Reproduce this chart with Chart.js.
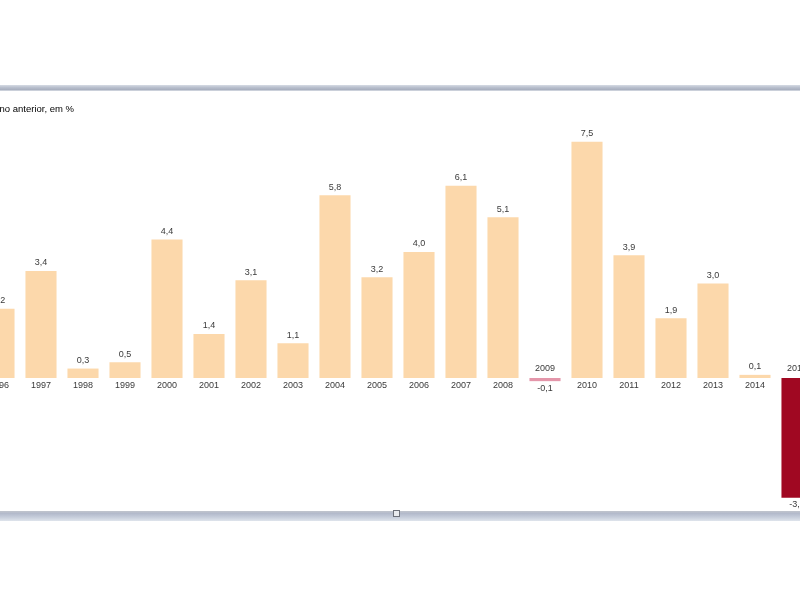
<!DOCTYPE html>
<html>
<head>
<meta charset="utf-8">
<script src="https://cdn.jsdelivr.net/npm/chart.js@4"></script>
<style>
  html, body { margin: 0; padding: 0; background: #fff; width: 800px; height: 600px; overflow: hidden; position: relative; }
  #c { position: absolute; left: -40px; top: 0; }
  .frameTop { position: absolute; left: 0; top: 85px; width: 800px; height: 6px;
    background: linear-gradient(#d6dbe4, #b9c0ce 40%, #a7aebe 80%, #e4e8ee); z-index: 2; }
  .frameBot { position: absolute; left: 0; top: 511px; width: 800px; height: 10px;
    background: linear-gradient(#c0c4cc, #b3bacb 25%, #c5ccda 60%, #dfe4ec); z-index: 2; }
  .handle { position: absolute; left: 393px; top: 510px; width: 5px; height: 5px; border: 1px solid #6d717a; background: #e9ebef; z-index: 3; }
</style>
</head>
<body>
<canvas id="c" width="880" height="600"></canvas>
<div class="frameTop"></div>
<div class="frameBot"></div>
<div class="handle"></div>
<script>
const years = ['1996','1997','1998','1999','2000','2001','2002','2003','2004','2005','2006','2007','2008','2009','2010','2011','2012','2013','2014','2015'];
const growth = [2.2, 3.4, 0.3, 0.5, 4.4, 1.4, 3.1, 1.1, 5.8, 3.2, 4.0, 6.1, 5.1, -0.1, 7.5, 3.9, 1.9, 3.0, 0.1, -3.8];
const titleText = 'PIB - Variação em relação ao ano anterior, em %';

const PEACH = 'rgb(252,216,171)';
const PINK = 'rgb(228,150,170)';
const DARKRED = 'rgb(160,8,34)';
const barColors = years.map((y, i) => y === '2015' ? DARKRED : (growth[i] < 0 ? PINK : PEACH));

const labelPlugin = {
  id: 'labels',
  afterDatasetsDraw(chart) {
    const ctx = chart.ctx;
    const meta = chart.getDatasetMeta(0);
    const yScale = chart.scales.y;
    const base = yScale.getPixelForValue(0);
    ctx.save();
    ctx.textAlign = 'center';
    ctx.textBaseline = 'middle';
    ctx.fillStyle = '#3a3a3a';
    ctx.font = '9px "Liberation Sans", Arial, sans-serif';
    meta.data.forEach((bar, i) => {
      const v = growth[i];
      const txt = v.toFixed(1).replace('.', ',');
      const top = yScale.getPixelForValue(v);
      if (v >= 0) {
        ctx.fillText(txt, bar.x, top - 8);
        ctx.fillText(years[i], bar.x, base + 8);
      } else {
        ctx.fillText(years[i], bar.x, base - 9);
        ctx.fillText(txt, bar.x, top + 7);
      }
    });
    ctx.textAlign = 'right';
    ctx.fillStyle = '#000';
    ctx.font = '9.5px "Liberation Sans", Arial, sans-serif';
    ctx.fillText(titleText, 114, 109);
    ctx.restore();
  }
};

new Chart(document.getElementById('c'), {
  type: 'bar',
  data: {
    labels: years,
    datasets: [{
      data: growth,
      backgroundColor: barColors,
      borderWidth: 0,
      categoryPercentage: 1,
      barPercentage: 0.74,
      minBarLength: 3
    }]
  },
  options: {
    responsive: false,
    animation: false,
    devicePixelRatio: 1,
    layout: { padding: { left: 18, right: 22, top: 126, bottom: 96 } },
    plugins: { legend: { display: false }, tooltip: { enabled: false }, title: { display: false } },
    scales: {
      x: { display: false },
      y: { display: false, min: -4, max: 8 }
    }
  },
  plugins: [labelPlugin]
});
</script>
</body>
</html>
